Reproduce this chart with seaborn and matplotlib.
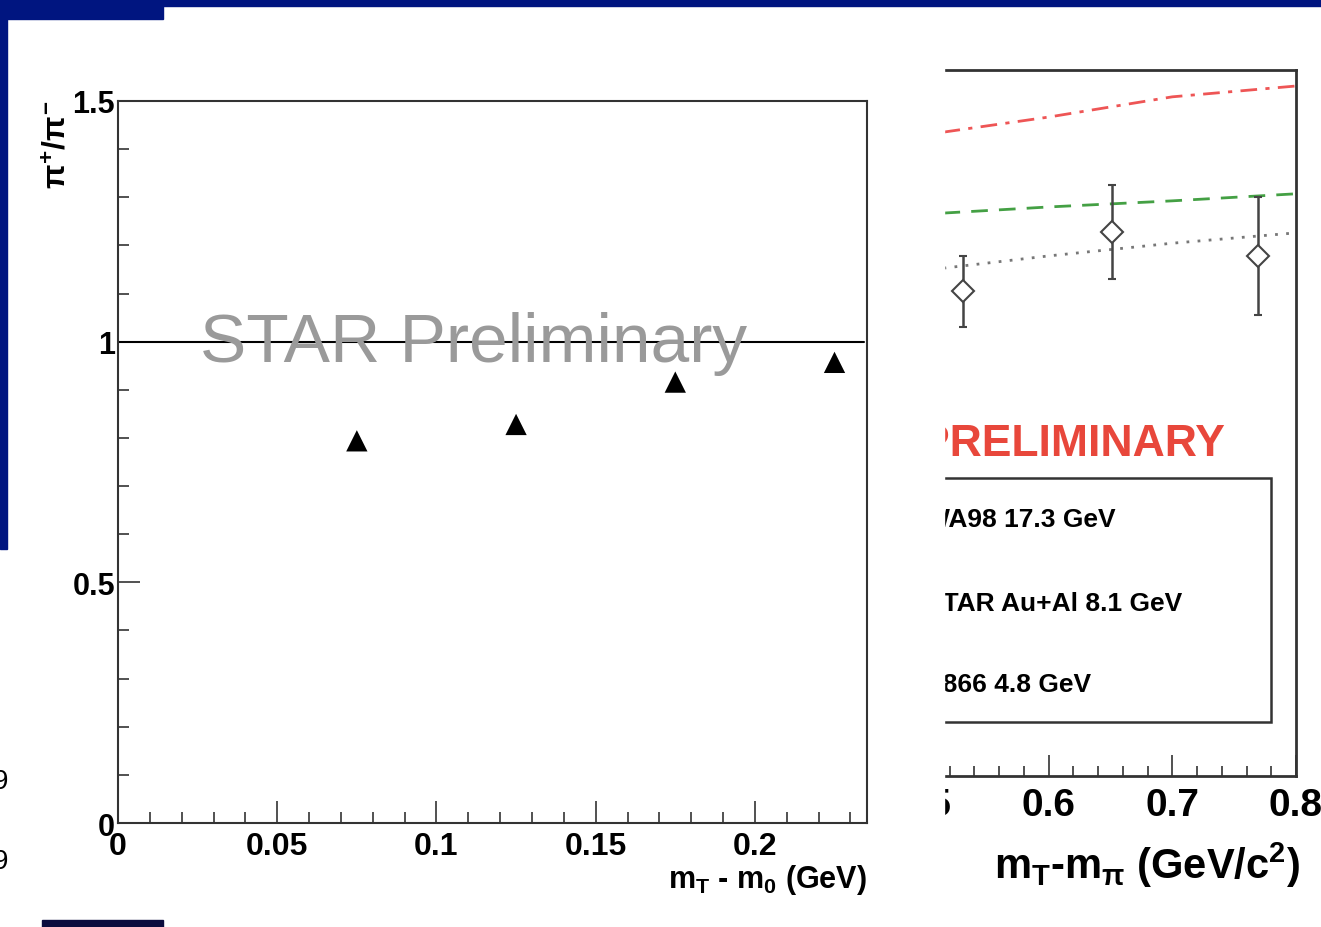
import matplotlib
matplotlib.use("Agg")
import matplotlib.pyplot as plt
import seaborn as sns
import pandas as pd
from matplotlib.patches import Rectangle
from matplotlib.ticker import MultipleLocator

# left panel: pi+/pi- ratio vs mT - m0
mt_left = [0.075, 0.125, 0.175, 0.225]
ratio_left = [0.794, 0.828, 0.916, 0.957]
xticks_left = [0, 0.05, 0.1, 0.15, 0.2]
xticklabels_left = ["0", "0.05", "0.1", "0.15", "0.2"]
yticks_left = [0, 0.5, 1, 1.5]
yticklabels_left = ["0", "0.5", "1", "1.5"]

# right panel (cropped): model curves and data points
mt_curve = [0.515, 0.6, 0.7, 0.8]
wa98_curve = [1.368, 1.400, 1.443, 1.466]
star_curve = [1.196, 1.209, 1.222, 1.237]
e866_curve = [1.079, 1.105, 1.132, 1.154]
mt_right = [0.531, 0.651, 0.769]
ratio_right = [1.030, 1.156, 1.105]
err_right = [0.075, 0.100, 0.125]
xticks_right = [0.5, 0.6, 0.7, 0.8]
xticklabels_right = ["0.5", "0.6", "0.7", "0.8"]
legend_labels = ["WA98 17.3 GeV", "STAR Au+Al 8.1 GeV", "E866 4.8 GeV"]

sns.set_style("white")
plt.rcParams["font.family"] = ["Liberation Sans", "DejaVu Sans"]
plt.rcParams["mathtext.fontset"] = "custom"
plt.rcParams["mathtext.rm"] = "Liberation Sans:bold"
plt.rcParams["mathtext.it"] = "Liberation Sans:bold"
plt.rcParams["mathtext.bf"] = "Liberation Sans:bold"
plt.rcParams["text.color"] = "black"
plt.rcParams["xtick.labelcolor"] = "black"
plt.rcParams["ytick.labelcolor"] = "black"

W, H = 1321, 928
fig = plt.figure(figsize=(W / 100, H / 100), dpi=100)
fig.patch.set_facecolor("white")


def px_box(x0, y0, x1, y1):
    return [x0 / W, 1 - y1 / H, (x1 - x0) / W, (y1 - y0) / H]


def fx(x):
    return x / W


def fy(y):
    return 1 - y / H


spine_col = "#333333"

# ---- left panel ----
ax = fig.add_axes(px_box(118, 102, 867, 824))
df_left = pd.DataFrame({"mt": mt_left, "ratio": ratio_left})
sns.scatterplot(data=df_left, x="mt", y="ratio", marker="^", s=235,
                color="black", edgecolor="none", ax=ax, zorder=3)
ax.axhline(1.0, xmin=0, xmax=0.996, color="black", lw=1.5)
ax.set_xlim(0, 0.2352)
ax.set_ylim(0, 1.5)
ax.set_xticks(xticks_left, labels=xticklabels_left, fontsize=23, fontweight="bold")
ax.set_yticks(yticks_left, labels=yticklabels_left, fontsize=22, fontweight="bold")
ax.xaxis.set_minor_locator(MultipleLocator(0.01))
ax.yaxis.set_minor_locator(MultipleLocator(0.1))
ax.tick_params(which="both", direction="in", bottom=True, left=True,
               top=False, right=False, color=spine_col, width=1.2)
ax.tick_params(axis="x", which="major", length=16, pad=6)
ax.tick_params(axis="y", which="major", length=16, pad=2)
ax.tick_params(which="minor", length=8)
ax.set_xlabel("")
ax.set_ylabel("")
for sp in ax.spines.values():
    sp.set_color(spine_col)
    sp.set_linewidth(1.5)

fig.text(fx(58), fy(100), r"$\pi^{+}/\pi^{-}$", rotation=90, ha="center",
         va="top", fontsize=23)
fig.text(fx(867), fy(880), r"m$_T$ - m$_0$ (GeV)", ha="right", va="center",
         fontsize=22, fontweight="bold")
fig.text(fx(200), fy(362), "STAR Preliminary", ha="left", va="baseline",
         fontsize=50, color="#9a9a9a")

# ---- right panel (cropped on the left) ----
ax2 = fig.add_axes(px_box(870, 71, 1296, 777))
sns.lineplot(x=mt_curve, y=wa98_curve, color="#ee5555", lw=2,
             linestyle=(0, (6, 3, 1.5, 3)), ax=ax2)
sns.lineplot(x=mt_curve, y=star_curve, color="#44a044", lw=2,
             linestyle=(0, (6, 4)), ax=ax2)
sns.lineplot(x=mt_curve, y=e866_curve, color="#777777", lw=2,
             linestyle=(0, (1, 3)), ax=ax2)
ax2.errorbar(mt_right, ratio_right, yerr=err_right, fmt="D", ms=11,
             mfc="white", mec="#444444", mew=1.5, ecolor="#444444",
             elinewidth=1.8, capsize=3, capthick=1.5, zorder=4)
ax2.set_xlim(0.4556, 0.8)
ax2.set_ylim(0, 1.5)
ax2.set_xticks(xticks_right, labels=xticklabels_right, fontsize=28, fontweight="bold")
ax2.xaxis.set_minor_locator(MultipleLocator(0.02))
ax2.set_yticks([])
ax2.tick_params(axis="x", which="both", direction="in", bottom=True, top=False,
                color=spine_col, width=1.2)
ax2.tick_params(axis="x", which="major", length=15, pad=8)
ax2.tick_params(axis="x", which="minor", length=7)
for sp in ax2.spines.values():
    sp.set_color(spine_col)
    sp.set_linewidth(2)

fig.text(fx(1147), fy(865), r"m$_T$-m$_\pi$ (GeV/c$^2$)", ha="center",
         va="center", fontsize=30, fontweight="bold")
fig.text(fx(1225), fy(445), "PRELIMINARY", ha="right", va="center",
         fontsize=32, fontweight="bold", color="#e8473b")
fig.add_artist(Rectangle((fx(880), fy(723)), fx(1271) - fx(880), fy(479) - fy(723),
                         transform=fig.transFigure, fill=False,
                         edgecolor=spine_col, lw=1.8, zorder=2))
for label, y in zip(legend_labels, [520, 604, 685]):
    fig.text(fx(925), fy(y), label, ha="left", va="center",
             fontsize=19, fontweight="bold")

# white mask hiding the cropped part of the right panel
fig.add_artist(Rectangle((fx(869), 0), fx(944) - fx(869), fy(8),
                         transform=fig.transFigure, color="white", zorder=5))

# slide decoration
navy = "#001580"
fig.add_artist(Rectangle((0, fy(7)), 1, fy(0) - fy(7), transform=fig.transFigure,
                         color=navy, zorder=6))
fig.add_artist(Rectangle((0, fy(20)), fx(163), fy(0) - fy(20), transform=fig.transFigure,
                         color=navy, zorder=6))
fig.add_artist(Rectangle((0, fy(550)), fx(7), fy(0) - fy(550), transform=fig.transFigure,
                         color=navy, zorder=6))
fig.add_artist(Rectangle((fx(42), 0), fx(163) - fx(42), fy(921), transform=fig.transFigure,
                         color="#0b0c3e", zorder=6))
for y in [782, 862]:
    fig.text(fx(-7), fy(y), "9", ha="left", va="center", fontsize=20)

fig.savefig("out.png", dpi=100)
